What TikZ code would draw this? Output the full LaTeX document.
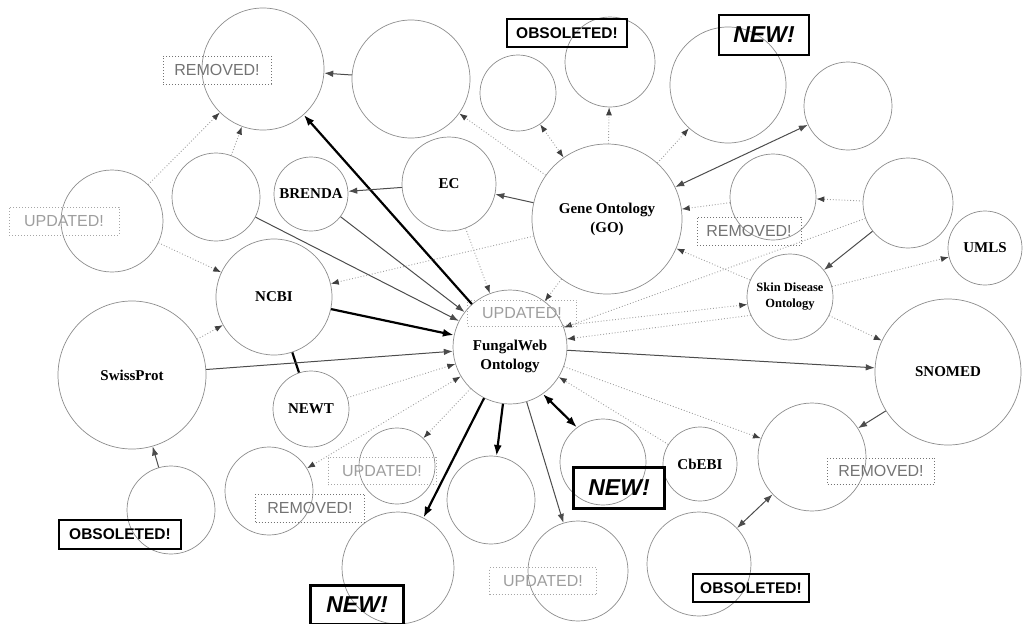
\documentclass[tikz,border=0pt]{standalone}
\usepackage{fontspec}
\setmainfont{Liberation Serif}
\newfontfamily\badgefont{Liberation Sans}
\usetikzlibrary{arrows.meta}

\begin{document}
\begin{tikzpicture}[x=1pt,y=-1pt,
  onto/.style={circle,draw=black!45,line width=0.7pt,inner sep=0pt,minimum size=#1},
  ontoname/.style={font=\fontsize{15}{19}\selectfont\bfseries,align=center,text=black},
  strong/.style={draw=black,line width=2.2pt,>={Latex[length=11pt,width=8pt]}},
  plain/.style={draw=black!70,line width=1pt,>={Latex[length=9pt,width=6.5pt]}},
  faint/.style={draw=black!38,dotted,line width=0.9pt,>={Latex[length=8pt,width=6pt,color=black!75]}},
  newbadge/.style={draw=black,line width=2.6pt,inner sep=0pt,
    font=\badgefont\fontsize{23}{23}\selectfont\bfseries\itshape},
  obsbadge/.style={draw=black,line width=2pt,inner sep=0pt,
    font=\badgefont\fontsize{15.5}{15.5}\selectfont\bfseries},
  rembadge/.style={draw=black!55,dotted,line width=1pt,inner sep=0pt,text=black!55,
    font=\badgefont\fontsize{16}{16}\selectfont},
  updbadge/.style={draw=black!35,dotted,line width=1pt,inner sep=0pt,text=black!38,
    font=\badgefont\fontsize{16}{16}\selectfont},
]
\useasboundingbox (0,0) rectangle (1034,624);

% ---- ontologies ----
\node[onto=122pt] (c1) at (263,69) {};
\node[onto=118pt] (c2) at (411,79) {};
\node[onto=76pt]  (c3) at (518,93) {};
\node[onto=90pt]  (c4) at (610,62) {};
\node[onto=116pt] (c5) at (728,85) {};
\node[onto=88pt]  (c6) at (848,106) {};
\node[onto=150pt,ontoname] (go) at (607,219) {Gene Ontology\\(GO)};
\node[onto=86pt]  (c8) at (773,197) {};
\node[onto=90pt]  (c9) at (908,203) {};
\node[onto=74pt,ontoname] (umls) at (985,248) {UMLS};
\node[onto=86pt,ontoname,font=\fontsize{12.5}{16}\selectfont\bfseries] (skin) at (790,297) {Skin Disease\\Ontology};
\node[onto=146pt,ontoname] (snomed) at (948,372) {SNOMED};
\node[onto=108pt] (c13) at (812,457) {};
\node[onto=104pt] (c14) at (699,564) {};
\node[onto=74pt,ontoname] (cbebi) at (700,464) {CbEBI};
\node[onto=86pt]  (c16) at (603,462) {};
\node[onto=100pt] (c17) at (578,571) {};
\node[onto=88pt]  (c18) at (491,500) {};
\node[onto=112pt] (c19) at (398,568) {};
\node[onto=76pt]  (c20) at (397,466) {};
\node[onto=88pt]  (c21) at (269,491) {};
\node[onto=88pt]  (c22) at (171,510) {};
\node[onto=148pt,ontoname] (sp) at (132,375) {SwissProt};
\node[onto=76pt,ontoname] (newt) at (311,409) {NEWT};
\node[onto=116pt,ontoname] (ncbi) at (274,297) {NCBI};
\node[onto=88pt]  (c26) at (216,197) {};
\node[onto=74pt,ontoname] (brenda) at (311,194) {BRENDA};
\node[onto=102pt] (c28) at (112,221) {};
\node[onto=94pt,ontoname] (ec) at (449,184) {EC};
\node[onto=114pt] (fw) at (510,347) {};
\node[ontoname] (fwname) at (510,356) {FungalWeb\\Ontology};

% ---- status badges ----
\node[rembadge,minimum width=108pt,minimum height=28pt] (rem1) at (217,70) {REMOVED!};
\node[updbadge,minimum width=110pt,minimum height=28pt] (upd1) at (64,221) {UPDATED!};
\node[obsbadge,minimum width=120pt,minimum height=28pt] (obs1) at (567,33) {OBSOLETED!};
\node[newbadge,minimum width=90pt,minimum height=40pt] (new1) at (764,35) {NEW!};
\node[rembadge,minimum width=104pt,minimum height=28pt] (rem2) at (749,231) {REMOVED!};
\node[updbadge,minimum width=109pt,minimum height=26pt] (upd2) at (522,313) {UPDATED!};
\node[rembadge,minimum width=107pt,minimum height=26pt] (rem3) at (881,471) {REMOVED!};
\node[obsbadge,minimum width=116pt,minimum height=28pt] (obs2) at (751,588) {OBSOLETED!};
\node[newbadge,minimum width=91pt,minimum height=41pt] (new2) at (619,488) {NEW!};
\node[updbadge,minimum width=107pt,minimum height=27pt] (upd3) at (543,581) {UPDATED!};
\node[newbadge,minimum width=93pt,minimum height=39pt] (new3) at (357,605) {NEW!};
\node[updbadge,minimum width=108pt,minimum height=27pt] (upd4) at (382,471) {UPDATED!};
\node[rembadge,minimum width=109pt,minimum height=28pt] (rem4) at (310,508) {REMOVED!};
\node[obsbadge,minimum width=122pt,minimum height=29pt] (obs3) at (120,534) {OBSOLETED!};

% ---- strong links ----
\draw[strong,->] (fw) -- (c1);
\draw[strong,->] (ncbi) -- (fw);
\draw[strong,->] (fw) -- (c19);
\draw[strong,->] (fw) -- (c18);
\draw[strong,<->] (fw.-55) -- (c16.127);
\draw[strong] (ncbi) -- (newt);

% ---- plain links ----
\draw[plain,->] (ec) -- (brenda);
\draw[plain,->] (go) -- (ec);
\draw[plain,->] (brenda) -- (fw);
\draw[plain,->] (c26) -- (fw);
\draw[plain,->] (sp) -- (fw);
\draw[plain,->] (fw) -- (snomed);
\draw[plain,->] (fw) -- (c17);
\draw[plain,->] (c9) -- (skin);
\draw[plain,<->] (c6) -- (go);
\draw[plain,->] (snomed) -- (c13);
\draw[plain,<->] (c13) -- (c14);
\draw[plain,->] (c2) -- (c1);
\draw[plain,->] (c22) -- (sp);

% ---- faint links ----
\draw[faint,->] (c28) -- (c1);
\draw[faint,->] (c26) -- (c1);
\draw[faint,->] (c28) -- (ncbi);
\draw[faint,->] (go) -- (ncbi);
\draw[faint,->] (sp) -- (ncbi);
\draw[faint,->] (newt) -- (fw);
\draw[faint,->] (fw) -- (c20);
\draw[faint,<->] (c21) -- (fw);
\draw[faint,->] (ec) -- (fw);
\draw[faint,->] (go) -- (fw);
\draw[faint,->] (c9) -- (fw);
\draw[faint,->] (skin.205) -- (fw.8);
\draw[faint,->] (fw.22) -- (skin.190);
\draw[faint,->] (c9) -- (c8);
\draw[faint,->] (c8) -- (go);
\draw[faint,->] (skin) -- (go);
\draw[faint,->] (skin) -- (umls);
\draw[faint,->] (skin) -- (snomed);
\draw[faint,<->] (c3) -- (go);
\draw[faint,->] (go) -- (c4);
\draw[faint,->] (go) -- (c5);
\draw[faint,->] (go) -- (c2);
\draw[faint,->] (cbebi) -- (fw);
\draw[faint,->] (fw) -- (c13);
\end{tikzpicture}
\end{document}
